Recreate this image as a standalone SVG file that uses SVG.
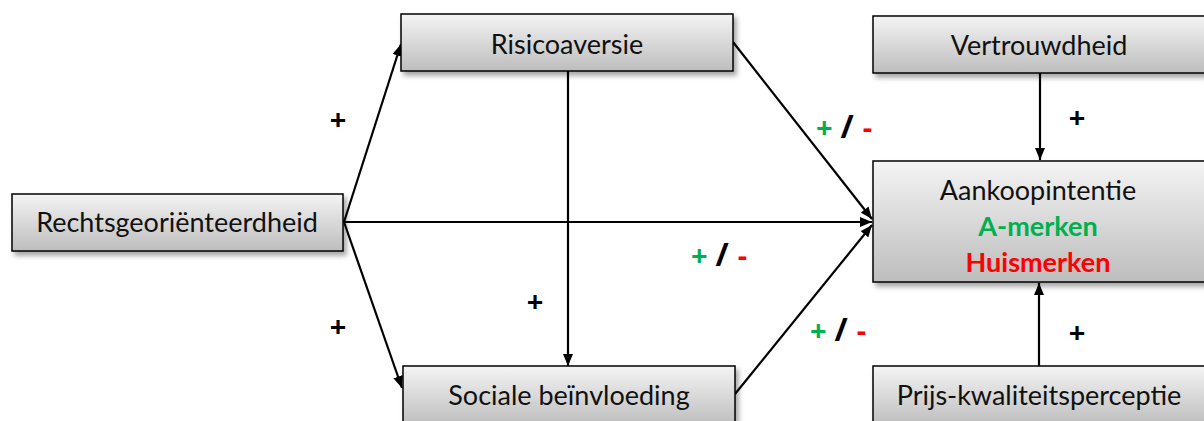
<svg xmlns="http://www.w3.org/2000/svg" width="1204" height="421" viewBox="0 0 1204 421">
  <defs>
    <linearGradient id="boxFill" x1="0" y1="0" x2="0" y2="1">
      <stop offset="0" stop-color="#f4f4f4"/>
      <stop offset="1" stop-color="#bdbdbd"/>
    </linearGradient>
    <filter id="shadow" x="-5%" y="-10%" width="115%" height="140%">
      <feDropShadow dx="3" dy="4" stdDeviation="2.5" flood-color="#000" flood-opacity="0.35"/>
    </filter>
    <marker id="arrow" viewBox="0 0 12 10" refX="12" refY="5" markerWidth="12" markerHeight="10" markerUnits="userSpaceOnUse" orient="auto">
      <path d="M0,0 L12,5 L0,10 Z" fill="#000"/>
    </marker>
  </defs>
  <style>
    .box { fill: url(#boxFill); stroke: #000; stroke-width: 1.5; filter: url(#shadow); }
    .label { font-family: Lato, "Open Sans", sans-serif; font-size: 27px; fill: #111; text-anchor: middle; }
    .bold { font-family: Lato, "Open Sans", sans-serif; font-size: 27px; font-weight: bold; text-anchor: middle; }
    .sign { font-family: "Open Sans", Lato, sans-serif; font-size: 29px; font-weight: bold; }
    .edge { stroke: #000; stroke-width: 2.2; fill: none; marker-end: url(#arrow); }
    .green { fill: #00b050; }
    .red { fill: #ff0000; }
    .black { fill: #000; }
  </style>

  <!-- connectors -->
  <g id="connectors">
    <line class="edge" x1="344" y1="222" x2="401" y2="44"/>
    <line class="edge" x1="344" y1="222" x2="872" y2="222"/>
    <line class="edge" x1="344" y1="222" x2="402" y2="388"/>
    <line class="edge" x1="568" y1="71" x2="568" y2="366"/>
    <line class="edge" x1="733" y1="42" x2="872" y2="219"/>
    <line class="edge" x1="735" y1="394" x2="872" y2="225"/>
    <line class="edge" x1="1040" y1="73" x2="1040" y2="160"/>
    <line class="edge" x1="1039" y1="366" x2="1039" y2="283"/>
  </g>

  <!-- nodes -->
  <g id="rechtsgeorienteerdheid">
    <rect class="box" x="12" y="194" width="331" height="57"/>
    <text class="label" x="177" y="232">Rechtsgeoriënteerdheid</text>
  </g>
  <g id="risicoaversie">
    <rect class="box" x="401" y="14" width="332" height="57"/>
    <text class="label" x="567" y="54">Risicoaversie</text>
  </g>
  <g id="sociale-beinvloeding">
    <rect class="box" x="403" y="366" width="332" height="60"/>
    <text class="label" x="569" y="405">Sociale beïnvloeding</text>
  </g>
  <g id="vertrouwdheid">
    <rect class="box" x="873" y="16" width="332" height="57"/>
    <text class="label" x="1039" y="55">Vertrouwdheid</text>
  </g>
  <g id="aankoopintentie">
    <rect class="box" x="873" y="161" width="332" height="121"/>
    <text class="label" x="1038" y="200">Aankoopintentie</text>
    <text class="bold green" x="1038" y="236">A-merken</text>
    <text class="bold red" x="1038" y="272">Huismerken</text>
  </g>
  <g id="prijs-kwaliteitsperceptie">
    <rect class="box" x="873" y="366" width="332" height="60"/>
    <text class="label" x="1039" y="405">Prijs-kwaliteitsperceptie</text>
  </g>

  <!-- path signs -->
  <g id="signs">
    <text class="sign black" x="338" y="130" text-anchor="middle">+</text>
    <text class="sign black" x="338" y="337" text-anchor="middle">+</text>
    <text class="sign black" x="535" y="312" text-anchor="middle">+</text>
    <text class="sign black" x="1077" y="128" text-anchor="middle">+</text>
    <text class="sign black" x="1077" y="343" text-anchor="middle">+</text>

    <text class="sign" x="816" y="138"><tspan class="green">+</tspan><tspan class="black" dx="8" font-size="32">/</tspan><tspan class="red" dx="9">-</tspan></text>
    <text class="sign" x="691" y="266"><tspan class="green">+</tspan><tspan class="black" dx="8" font-size="32">/</tspan><tspan class="red" dx="9">-</tspan></text>
    <text class="sign" x="810" y="341"><tspan class="green">+</tspan><tspan class="black" dx="8" font-size="32">/</tspan><tspan class="red" dx="9">-</tspan></text>
  </g>
</svg>
